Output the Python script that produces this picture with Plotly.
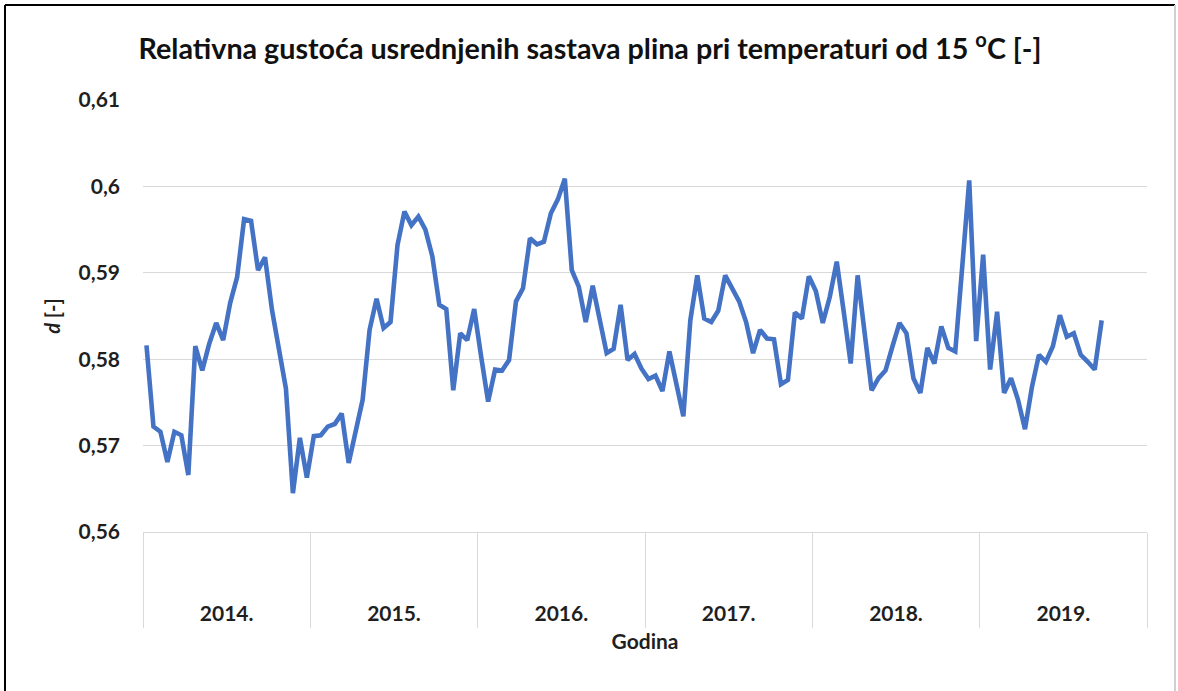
import plotly.graph_objects as go

# ---- data ----
years = ["2014.", "2015.", "2016.", "2017.", "2018.", "2019."]
periods_per_year = 24  # semi-monthly values
density = [
    0.5816, 0.5722, 0.5716, 0.5681, 0.5716, 0.5712, 0.5666, 0.5815, 0.5787, 0.5818, 0.5842, 0.5822,
    0.5865, 0.5895, 0.5962, 0.5960, 0.5903, 0.5918, 0.5857, 0.5811, 0.5766, 0.5645, 0.5709, 0.5663,
    0.5711, 0.5712, 0.5722, 0.5725, 0.5737, 0.5680, 0.5716, 0.5753, 0.5834, 0.5870, 0.5836, 0.5843,
    0.5932, 0.5971, 0.5955, 0.5965, 0.5950, 0.5919, 0.5863, 0.5858, 0.5764, 0.5830, 0.5822, 0.5858,
    0.5803, 0.5751, 0.5788, 0.5787, 0.5799, 0.5867, 0.5882, 0.5940, 0.5933, 0.5936, 0.5969, 0.5985,
    0.6009, 0.5903, 0.5884, 0.5843, 0.5885, 0.5845, 0.5807, 0.5812, 0.5863, 0.5799, 0.5806, 0.5789,
    0.5777, 0.5781, 0.5763, 0.5809, 0.5772, 0.5734, 0.5845, 0.5897, 0.5847, 0.5843, 0.5856, 0.5897,
    0.5882, 0.5867, 0.5843, 0.5807, 0.5834, 0.5824, 0.5823, 0.5771, 0.5776, 0.5854, 0.5847, 0.5896,
    0.5879, 0.5842, 0.5872, 0.5913, 0.5855, 0.5795, 0.5897, 0.5832, 0.5764, 0.5778, 0.5787, 0.5815,
    0.5842, 0.5830, 0.5778, 0.5761, 0.5813, 0.5795, 0.5838, 0.5813, 0.5809, 0.5907, 0.6007, 0.5821,
    0.5921, 0.5788, 0.5855, 0.5761, 0.5778, 0.5753, 0.5719, 0.5768, 0.5805, 0.5797, 0.5815, 0.5851,
    0.5826, 0.5830, 0.5805, 0.5797, 0.5788, 0.5845,
]
y_tick_vals = [0.56, 0.57, 0.58, 0.59, 0.60, 0.61]
y_tick_text = ["0,56", "0,57", "0,58", "0,59", "0,6", "0,61"]

title_text = "Relativna gustoća usrednjenih sastava plina pri temperaturi od 15 <sup>o</sup>C [-]"
x_title = "Godina"
y_title = "<i>d</i> [-]"

n_total = len(years) * periods_per_year
x_idx = list(range(len(density)))
year_centers = [i * periods_per_year + (periods_per_year - 1) / 2 for i in range(len(years))]

FONT = "Lato"
BLUE = "#4472C4"
GRID = "#d9d9d9"
TXT = "#1f1f1f"
W, H = 1178, 691
L, R, T, B = 143, 31, 100, 159
PW, PH = W - L - R, H - T - B

fig = go.Figure()
fig.add_trace(go.Scatter(
    x=x_idx, y=density, mode="lines",
    line=dict(color=BLUE, width=4.6),
    showlegend=False, hoverinfo="y",
))

fig.update_layout(
    width=W, height=H,
    margin=dict(l=L, r=R, t=T, b=B),
    paper_bgcolor="white", plot_bgcolor="white",
    font=dict(family=FONT, color=TXT),
    title=dict(text="<b>" + title_text + "</b>", x=590 / W, xref="container", xanchor="center",
               y=1 - 49 / H, yref="container", yanchor="middle",
               font=dict(family=FONT, size=28.7, color="#111111")),
    xaxis=dict(
        range=[-0.5, n_total - 0.5], showgrid=False, zeroline=False,
        showline=True, linecolor=GRID, linewidth=1,
        tickmode="array", tickvals=year_centers, ticktext=["<b>" + y + "</b>" for y in years],
        ticks="", ticklabelstandoff=63,
        tickfont=dict(family=FONT, size=21, color=TXT),
        minor=dict(tickmode="linear", tick0=-0.5, dtick=periods_per_year,
                   ticks="outside", ticklen=95, tickcolor=GRID, tickwidth=1, showgrid=False),
        title=dict(text="<b>" + x_title + "</b>", standoff=10,
                   font=dict(family=FONT, size=21, color=TXT)),
        fixedrange=True,
    ),
    yaxis=dict(
        range=[0.56, 0.61], showgrid=True, gridcolor=GRID, gridwidth=1,
        zeroline=False, showline=False,
        tickmode="array", tickvals=y_tick_vals, ticktext=["<b>" + t + "</b>" for t in y_tick_text],
        ticks="", ticklabelstandoff=22,
        tickfont=dict(family=FONT, size=21, color=TXT),
        title=dict(text="<b>" + y_title + "</b>", standoff=12,
                   font=dict(family=FONT, size=20, color=TXT)),
        fixedrange=True,
    ),
)

# outer frame of the chart object
fx0, fx1 = (5 - L) / PW, (1175 - L) / PW
fy_top = 1 + (T - 5) / PH
fig.add_shape(type="line", xref="paper", yref="paper",
              x0=fx0, x1=fx1, y0=fy_top, y1=fy_top, line=dict(color="black", width=2))
fig.add_shape(type="line", xref="paper", yref="paper",
              x0=fx0, x1=fx0, y0=fy_top, y1=-0.5, line=dict(color="black", width=2))
fig.add_shape(type="line", xref="paper", yref="paper",
              x0=fx1, x1=fx1, y0=fy_top, y1=-0.5, line=dict(color="#d0d0d0", width=2))

fig.write_html("out.html", config={"displayModeBar": False},
               post_script="document.body.style.margin='0';")
